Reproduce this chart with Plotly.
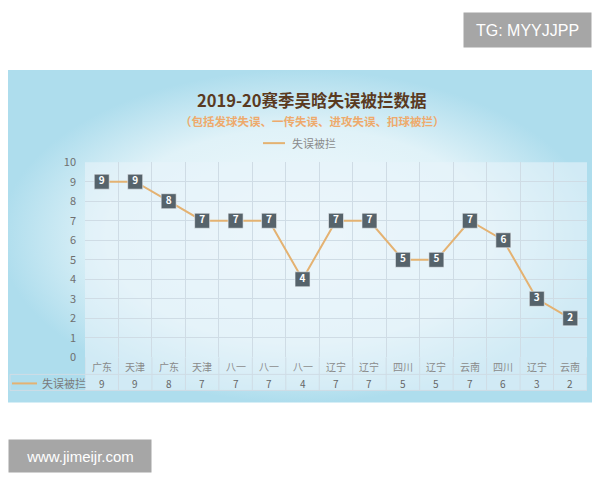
import plotly.graph_objects as go

teams = ["广东", "天津", "广东", "天津", "八一", "八一", "八一", "辽宁",
         "辽宁", "四川", "辽宁", "云南", "四川", "辽宁", "云南"]
blocked_turnovers = [9, 9, 8, 7, 7, 7, 4, 7, 7, 5, 5, 7, 6, 3, 2]
y_ticks = list(range(0, 11))

TITLE = "2019-20赛季吴晗失误被拦数据"
SUBTITLE = "（包括发球失误、一传失误、进攻失误、扣球被拦）"
SERIES_NAME = "失误被拦"

# the page body keeps a margin around the figure; these constants map
# window pixels onto the figure so positions can be given in window pixels
PAGE_LEFT = 8
SCREEN_TOP, SCREEN_SCALE_Y = 17, 0.965
W, H = 584, 472
PANEL_TOP, PANEL_BOTTOM = 70, 402
PLOT_L, PLOT_R = 85, 587
PLOT_T, PLOT_B = 162, 357
ROW_SPLIT, TABLE_BOTTOM = 374, 390

FONT = "Noto Sans CJK SC"
LINE_COLOR = "#e4b272"
GRID_COLOR = "#cfdce5"
MARKER_COLOR = "#56636b"

n = len(teams)
xs = list(range(n))
y_top = SCREEN_TOP
y_bottom = SCREEN_TOP + SCREEN_SCALE_Y * H


def fx(px):
    return (px - PAGE_LEFT) / W


def fy(py):
    return (y_bottom - py) / (y_bottom - y_top)


fig = go.Figure()

# background panel (window pixel coordinates on the hidden x/y axes)
fig.add_trace(go.Scatter(
    x=[0, 600, 600, 0, 0],
    y=[PANEL_TOP, PANEL_TOP, PANEL_BOTTOM, PANEL_BOTTOM, PANEL_TOP],
    mode="lines", fill="toself", line=dict(width=0),
    fillgradient=dict(type="radial",
                      colorscale=[[0, "#f3fafd"], [0.65, "#e0f2f8"], [1, "#aedded"]]),
    hoverinfo="skip", showlegend=False, xaxis="x", yaxis="y",
))
fig.add_trace(go.Scatter(
    x=[PLOT_L, PLOT_R, PLOT_R, PLOT_L, PLOT_L],
    y=[PLOT_T, PLOT_T, TABLE_BOTTOM, TABLE_BOTTOM, PLOT_T],
    mode="lines", fill="toself", line=dict(width=0),
    fillcolor="rgba(232,244,250,0.6)",
    hoverinfo="skip", showlegend=False, xaxis="x", yaxis="y",
))

fig.add_trace(go.Scatter(
    x=xs, y=blocked_turnovers, name=SERIES_NAME,
    mode="lines+markers+text",
    line=dict(color=LINE_COLOR, width=2),
    marker=dict(symbol="square", size=15, color=MARKER_COLOR,
                line=dict(color="#eef4f7", width=0.6)),
    text=[str(v) for v in blocked_turnovers],
    textposition="middle center",
    textfont=dict(family=FONT, size=10, color="white", weight="bold"),
    hoverinfo="skip", showlegend=False, xaxis="x2", yaxis="y2",
))

shapes = []
# table grid lines under the plot
for k in range(n + 1):
    shapes.append(dict(type="line", xref="x2", yref="y", x0=k - 0.5, x1=k - 0.5,
                       y0=PLOT_B, y1=TABLE_BOTTOM, layer="above",
                       line=dict(color=GRID_COLOR, width=1)))
for yy in (ROW_SPLIT, TABLE_BOTTOM):
    shapes.append(dict(type="line", xref="x", yref="y", x0=10, x1=PLOT_R,
                       y0=yy, y1=yy, layer="above",
                       line=dict(color=GRID_COLOR, width=1)))
shapes.append(dict(type="line", xref="x", yref="y", x0=10, x1=10,
                   y0=ROW_SPLIT, y1=TABLE_BOTTOM, layer="above",
                   line=dict(color=GRID_COLOR, width=1)))
# legend line samples
shapes.append(dict(type="line", xref="x", yref="y", x0=263, x1=285, y0=143, y1=143,
                   layer="above", line=dict(color=LINE_COLOR, width=2)))
shapes.append(dict(type="line", xref="x", yref="y", x0=12, x1=37, y0=383, y1=383,
                   layer="above", line=dict(color=LINE_COLOR, width=2)))

annotations = [
    dict(text=TITLE, x=312, y=100, font=dict(family=FONT, size=16.5, color="#5a3a1f", weight="bold")),
    dict(text=SUBTITLE, x=312, y=121, font=dict(family=FONT, size=11.5, color="#eeaa6c", weight="bold")),
    dict(text=SERIES_NAME, x=290, y=143, xanchor="left", font=dict(family=FONT, size=11, color="#8a8a8a")),
    dict(text=SERIES_NAME, x=40, y=383, xanchor="left", font=dict(family=FONT, size=11, color="#7a7a7a")),
    dict(text="TG: MYYJJPP", x=527, y=30, width=125, height=32,
         bgcolor="#a6a6a6", font=dict(family="Liberation Sans", size=16, color="white")),
    dict(text="www.jimeijr.com", x=80, y=455, width=140, height=30,
         bgcolor="#a6a6a6", font=dict(family="Liberation Sans", size=15, color="white")),
]
for a in annotations:
    a.update(xref="x", yref="y", showarrow=False)
    a.setdefault("xanchor", "center")
    a.setdefault("yanchor", "middle")

for x, team, v in zip(xs, teams, blocked_turnovers):
    annotations.append(dict(text=team, x=x, y=366, xref="x2", yref="y", showarrow=False,
                            font=dict(family=FONT, size=10, color="#8a8a8a")))
    annotations.append(dict(text=str(v), x=x, y=383, xref="x2", yref="y", showarrow=False,
                            font=dict(family=FONT, size=10, color="#666666")))

fig.update_layout(
    width=W, height=H,
    margin=dict(l=0, r=0, t=0, b=0),
    paper_bgcolor="white", plot_bgcolor="rgba(0,0,0,0)",
    showlegend=False,
    shapes=shapes, annotations=annotations,
    xaxis=dict(domain=[0, 1], range=[PAGE_LEFT, PAGE_LEFT + W],
               visible=False, fixedrange=True),
    yaxis=dict(domain=[0, 1], range=[y_bottom, y_top],
               visible=False, fixedrange=True),
    xaxis2=dict(domain=[fx(PLOT_L), fx(PLOT_R)], range=[-0.5, n - 0.5], anchor="y2",
                tickvals=[k - 0.5 for k in range(n + 1)], showticklabels=False,
                showgrid=True, gridcolor=GRID_COLOR, gridwidth=1, zeroline=False,
                showline=False, ticks=""),
    yaxis2=dict(domain=[fy(PLOT_B), fy(PLOT_T)], range=[0, 10], anchor="x2",
                tickvals=y_ticks, showgrid=True, gridcolor=GRID_COLOR, gridwidth=1,
                zeroline=False, showline=False, ticks="", ticklabelstandoff=8,
                tickfont=dict(family=FONT, size=11, color="#6f6f6f")),
)

fig.write_html("out.html")
